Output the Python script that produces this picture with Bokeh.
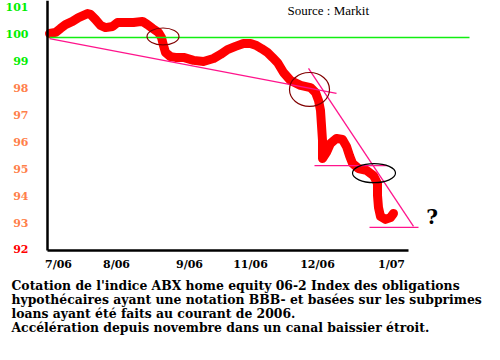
from bokeh.plotting import figure
from bokeh.models import Range1d, FixedTicker, LinearAxis, Label
from bokeh.embed import file_html
from bokeh.resources import INLINE

# ---- data (x: position index along the sketch, y: ABX price) ----
pos = [0.2, 0.8, 1.3, 1.8, 2.5, 3.1, 4.0, 4.3, 4.8, 5.3, 5.8, 6.5, 7.0, 7.8, 8.6, 9.5,
       10.0, 10.5, 11.1, 11.4, 11.6, 11.8, 12.3, 12.8, 13.6, 14.6, 15.6, 16.6, 17.3, 18.0,
       18.8, 19.6, 20.3, 20.9, 21.4, 22.0, 22.5, 23.0, 23.6, 24.3, 25.3, 26.3, 26.8, 27.1,
       27.3, 27.4, 27.5, 27.5, 27.9, 28.3, 28.9, 29.5, 29.9, 30.2, 30.5, 31.1, 31.9, 32.6,
       33.0, 33.0, 33.1, 33.3, 33.8, 34.3, 34.6]
abx = [100.03, 100.07, 100.22, 100.36, 100.48, 100.62, 100.77, 100.74, 100.55, 100.33,
       100.25, 100.29, 100.44, 100.44, 100.44, 100.48, 100.36, 100.22, 100.07, 99.88,
       99.58, 99.32, 99.17, 99.14, 99.14, 99.03, 98.99, 99.10, 99.25, 99.43, 99.55, 99.66,
       99.66, 99.58, 99.47, 99.32, 99.14, 98.95, 98.58, 98.28, 98.10, 98.02, 97.84, 97.54,
       97.17, 96.61, 96.05, 95.38, 95.61, 95.94, 96.13, 96.09, 95.83, 95.49, 95.20, 95.01,
       94.94, 94.75, 94.45, 94.01, 93.56, 93.23, 93.12, 93.19, 93.34]

month_pos = [1.1, 6.9, 14.2, 20.3, 27.0, 34.4]
month_labels = ["7/06", "8/06", "9/06", "11/06", "12/06", "1/07"]

ticks_green = [99, 100, 101]
ticks_orange = [93, 94, 95, 96, 97, 98]
ticks_red = [92]

support_100_x = [0.2, 42.2]
support_100_y = [99.88, 99.88]
channel1_x = [0.2, 28.9]
channel1_y = [99.84, 97.80]
channel2_x = [26.1, 36.6]
channel2_y = [98.73, 92.86]
level95_x = [26.7, 34.0]
level95_y = [95.12, 95.12]
level93_x = [32.2, 37.1]
level93_y = [92.82, 92.82]

mark_x = [11.55, 26.2, 32.65]
mark_y = [99.92, 97.95, 94.84]
mark_w = [3.2, 4.0, 4.3]
mark_h = [0.63, 1.26, 0.71]
mark_color = ["#800000", "#800000", "#000000"]

caption = ["Cotation de l'indice ABX home equity  06-2 Index des obligations",
           "hypothécaires ayant une notation BBB- et basées sur les subprimes",
           "loans ayant été faits au courant de 2006.",
           "Accélération depuis novembre dans un canal baissier étroit."]

# ---- figure ----
x_lo, x_hi = -4.7, 43.7
y_lo, y_hi = 88.468, 101.2565
axis_floor = 91.963
p = figure(width=484, height=344, x_range=Range1d(x_lo, x_hi), y_range=Range1d(y_lo, y_hi),
           output_backend="svg", toolbar_location=None, x_axis_type=None, y_axis_type=None,
           min_border=0)
p.outline_line_color = None
p.background_fill_color = "white"
p.border_fill_color = "white"

SERIF = "DejaVu Serif"

xaxis = LinearAxis(ticker=FixedTicker(ticks=month_pos), fixed_location=axis_floor,
                   major_label_overrides={k: v for k, v in zip(month_pos, month_labels)},
                   bounds=(0, 36.1), axis_line_width=2.5, axis_line_color="black",
                   major_tick_line_color=None, minor_tick_line_color=None,
                   major_label_text_font=SERIF, major_label_text_font_style="bold",
                   major_label_text_font_size="11px", major_label_text_color="black",
                   major_label_standoff=2)
p.add_layout(xaxis, "below")

for ticks, color, draw_line in [(ticks_green, "#00ee00", True),
                                (ticks_orange, "#ff7f4a", False),
                                (ticks_red, "#ff0000", False)]:
    ax = LinearAxis(ticker=FixedTicker(ticks=ticks), fixed_location=0,
                    bounds=(axis_floor, y_hi),
                    axis_line_width=2.5, axis_line_color="black" if draw_line else None,
                    major_tick_line_color=None, minor_tick_line_color=None,
                    major_label_text_font=SERIF, major_label_text_font_style="bold",
                    major_label_text_font_size="11px", major_label_text_color=color,
                    major_label_standoff=13)
    p.add_layout(ax, "left")

# price path
p.line(pos, abx, line_color="#ff0000", line_width=9, line_join="round", line_cap="round")

# drawn trend lines
p.line(support_100_x, support_100_y, line_color="#11ee11", line_width=1.5)
for xs, ys in [(channel1_x, channel1_y), (channel2_x, channel2_y),
               (level95_x, level95_y), (level93_x, level93_y)]:
    p.line(xs, ys, line_color="#ff148c", line_width=1.3)

p.ellipse(x=mark_x, y=mark_y, width=mark_w, height=mark_h, fill_color=None,
          line_color=mark_color, line_width=1.2)

p.add_layout(Label(x=24.0, y=100.885, text="Source : Markit", text_baseline="middle",
                   text_font="Liberation Serif", text_font_size="13px", text_color="black"))
p.add_layout(Label(x=38.45, y=93.21, text="?", text_align="center", text_baseline="middle",
                   text_font=SERIF, text_font_style="bold", text_font_size="20px",
                   text_color="black"))

for i, line in enumerate(caption):
    p.add_layout(Label(x=11, x_units="screen", y=59 - 14 * i, y_units="screen", text=line,
                       text_baseline="middle", text_font=SERIF, text_font_style="bold",
                       text_font_size="12.4px", text_color="black"))

open("out.html", "w").write(file_html(p, INLINE))
